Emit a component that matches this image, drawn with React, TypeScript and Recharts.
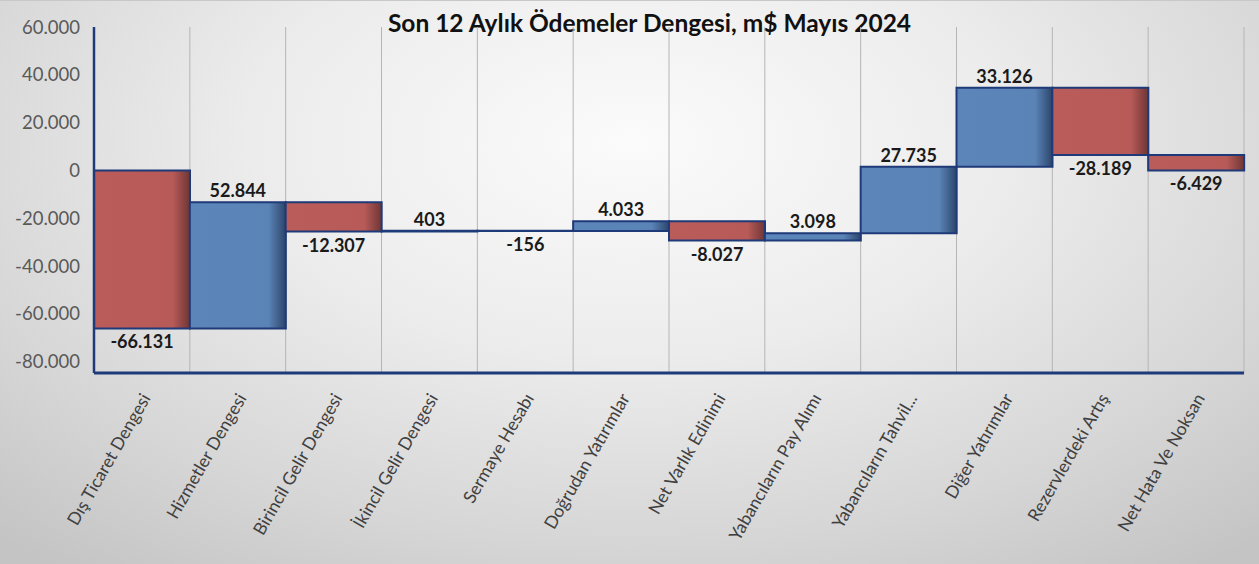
import { Bar, BarChart, CartesianGrid, Cell, LabelList, XAxis, YAxis } from "recharts";

const CATEGORIES = [
  "Dış Ticaret Dengesi",
  "Hizmetler Dengesi",
  "Birincil Gelir Dengesi",
  "İkincil Gelir Dengesi",
  "Sermaye Hesabı",
  "Doğrudan Yatırımlar",
  "Net Varlık Edinimi",
  "Yabancıların Pay Alımı",
  "Yabancıların Tahvil...",
  "Diğer Yatırımlar",
  "Rezervlerdeki Artış",
  "Net Hata Ve Noksan",
];

// milyon $ değişimler
const CHANGES = [-66131, 52844, -12307, 403, -156, 4033, -8027, 3098, 27735, 33126, -28189, -6429];

const Y_TICKS = [-80000, -60000, -40000, -20000, 0, 20000, 40000, 60000];

const TITLE = "Son 12 Aylık Ödemeler Dengesi, m$ Mayıs 2024";

const W = 1259;
const H = 564;

function fmt(v: number): string {
  const s = Math.abs(v).toString().replace(/\B(?=(\d{3})+(?!\d))/g, ".");
  return v < 0 ? "-" + s : s;
}

// waterfall: her kalem bir önceki kümülatif değerden başlar
let running = 0;
const DATA = CATEGORIES.map((name, i) => {
  const start = running;
  running += CHANGES[i];
  return { name, change: CHANGES[i], range: [start, running] };
});

const FONT = "Lato, 'Open Sans', sans-serif";

function CategoryTick(props: any) {
  const { x, y, payload } = props;
  return (
    <g transform={`translate(${x + 4},${y + 14})`}>
      <text
        transform="rotate(-60)"
        textAnchor="end"
        dy="0.35em"
        fontSize={17.5}
        fontFamily={FONT}
        fill="#404040"
      >
        {payload.value}
      </text>
    </g>
  );
}

function ValueLabel(props: any) {
  const { x, y, width, height, value } = props;
  const top = Math.min(y, y + height);
  const bottom = Math.max(y, y + height);
  const pos = value >= 0;
  return (
    <text
      x={x + width / 2}
      y={pos ? top - 5 : bottom + 20}
      textAnchor="middle"
      fontSize={18}
      fontWeight={700}
      fontFamily={FONT}
      fill="#1a1a1a"
    >
      {fmt(value)}
    </text>
  );
}

export default function App() {
  return (
    <div
      style={{
        position: "absolute",
        left: 0,
        top: 0,
        width: W,
        height: H,
        background:
          "radial-gradient(ellipse 75% 95% at 50% 25%, #fbfbfb 0%, #ececec 40%, #d6d6d6 75%, #c4c4c4 100%)",
        borderTop: "1px solid #c8c8c8",
        boxSizing: "border-box",
      }}
    >
      <div
        style={{
          position: "absolute",
          left: 0,
          width: W + 40,
          top: 7,
          textAlign: "center",
          fontFamily: FONT,
          fontWeight: 700,
          fontSize: 24.5,
          color: "#111",
          lineHeight: "30px",
        }}
      >
        {TITLE}
      </div>
      <BarChart
        width={W}
        height={H - 1}
        data={DATA}
        margin={{ top: 26, right: 15, bottom: 0, left: 0 }}
        barCategoryGap={0}
        barGap={0}
      >
        <defs>
          <linearGradient id="gRed" x1="0" y1="0" x2="1" y2="0">
            <stop offset="0%" stopColor="#b95c5a" />
            <stop offset="82%" stopColor="#b75a58" />
            <stop offset="100%" stopColor="#6e3634" />
          </linearGradient>
          <linearGradient id="gBlue" x1="0" y1="0" x2="1" y2="0">
            <stop offset="0%" stopColor="#5c86ba" />
            <stop offset="82%" stopColor="#5a83b6" />
            <stop offset="100%" stopColor="#2c456b" />
          </linearGradient>
        </defs>
        <CartesianGrid
          horizontal={false}
          stroke="#b5b5b5"
          verticalCoordinatesGenerator={({ offset }: any) =>
            CATEGORIES.map((_, i) => offset.left + ((i + 1) * offset.width) / CATEGORIES.length)
          }
        />
        <XAxis
          dataKey="name"
          interval={0}
          height={191}
          tick={<CategoryTick />}
          tickLine={false}
          axisLine={{ stroke: "#1f3a78", strokeWidth: 3 }}
        />
        <YAxis
          width={94}
          domain={[-84750, 60000]}
          ticks={Y_TICKS}
          allowDataOverflow
          tickFormatter={(v: number) => fmt(v)}
          tickSize={0}
          tickMargin={14}
          tickLine={false}
          axisLine={{ stroke: "#1f3a78", strokeWidth: 2.5 }}
          tick={{ fontSize: 18.5, fill: "#595959", fontFamily: FONT }}
        />
        <Bar dataKey="range" isAnimationActive={false} stroke="#1f3a78" strokeWidth={2}>
          {DATA.map((d, i) => (
            <Cell key={i} fill={d.change < 0 ? "url(#gRed)" : "url(#gBlue)"} />
          ))}
          <LabelList dataKey="change" content={<ValueLabel />} />
        </Bar>
      </BarChart>
    </div>
  );
}
